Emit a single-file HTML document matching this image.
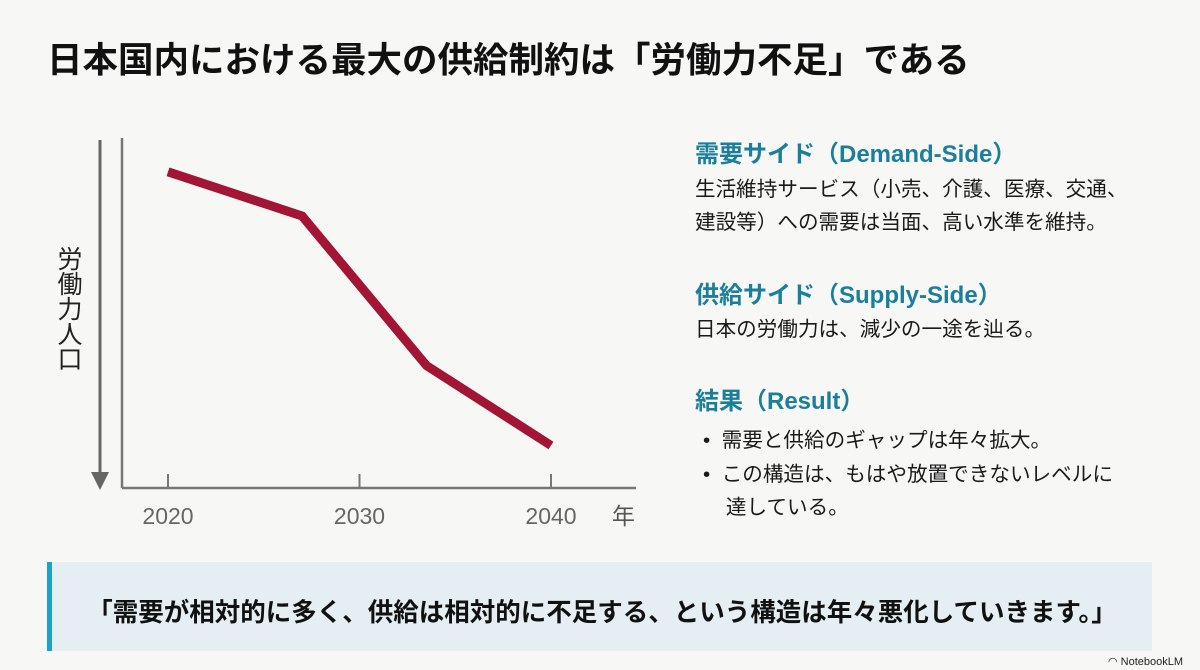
<!DOCTYPE html>
<html><head><meta charset="utf-8">
<style>
body{margin:0;width:1200px;height:670px;background:#f7f7f6;position:relative;overflow:hidden;font-family:"Liberation Sans","Noto Sans CJK JP",sans-serif;color:#111}
.a{position:absolute;white-space:nowrap}
.h{font-size:24px;font-weight:bold;color:#1b7f9c}
.b{font-size:20.6px;color:#1a1a1a}
</style></head><body>
<div class="a" style="left:47px;top:32px;font-size:35.5px;font-weight:bold;color:#111">日本国内における最大の供給制約は「労働力不足」である</div>

<svg class="a" style="left:0;top:0" width="660" height="540" id="chart">
<line x1="100" y1="140" x2="100" y2="478" stroke="#666" stroke-width="3"/>
<polygon points="91,472 109,472 100,490" fill="#666"/>
<line x1="122" y1="138" x2="122" y2="488" stroke="#777" stroke-width="2.5"/>
<line x1="122" y1="488" x2="636" y2="488" stroke="#777" stroke-width="2.5"/>
<text x="70" y="246" font-size="25" fill="#222" style="writing-mode:vertical-rl;font-family:'Noto Sans CJK JP',sans-serif">労働力人口</text>
<text x="612" y="524" font-size="23" fill="#555" font-family="'Noto Sans CJK JP',sans-serif">年</text>
<g id="ticks"></g>
<polyline id="series" fill="none" stroke="#a31535" stroke-width="9" stroke-linejoin="miter"/>
</svg>

<div class="a h" style="left:695px;top:134px">需要サイド（Demand-Side）</div>
<div class="a b" style="left:695px;top:173px;line-height:33px">生活維持サービス（小売、介護、医療、交通、<br>建設等）への需要は当面、高い水準を維持。</div>
<div class="a h" style="left:695px;top:275px">供給サイド（Supply-Side）</div>
<div class="a b" style="left:695px;top:312px">日本の労働力は、減少の一途を辿る。</div>
<div class="a h" style="left:695px;top:381px">結果（Result）</div>
<div class="a b" style="left:703px;top:423px">•&nbsp; 需要と供給のギャップは年々拡大。</div>
<div class="a b" style="left:703px;top:458px;line-height:33px">•&nbsp; この構造は、もはや放置できないレベルに<br>&nbsp;&nbsp;&nbsp;&nbsp;達している。</div>

<div class="a" style="left:47px;top:562px;width:1105px;height:89px;background:#e5eef3;border-left:5px solid #1aa3c6;box-sizing:border-box"></div>
<div class="a" style="left:52px;width:1100px;top:592px;text-align:center;font-size:25.5px;font-weight:bold">「需要が相対的に多く、供給は相対的に不足する、という構造は年々悪化していきます。」</div>
<div class="a" style="left:1108px;top:655px;font-size:11px;color:#222">◠ NotebookLM</div>

<script>
const years=[2020,2027,2033.5,2040];
const values=[93,80,36,12.5];
const tickYears=[2020,2030,2040];
const tickLabels=["2020","2030","2040"];
const xs=y=>168+(y-2020)*19.15;
const ys=v=>488-v*3.4;
const line=document.getElementById('series');
line.setAttribute('points',years.map((y,i)=>xs(y)+','+ys(values[i])).join(' '));
const g=document.getElementById('ticks');
const NS='http://www.w3.org/2000/svg';
tickYears.forEach((t,i)=>{
 const l=document.createElementNS(NS,'line');
 
 
 l.setAttribute('x1',xs(t));l.setAttribute('x2',xs(t));l.setAttribute('y1',474);l.setAttribute('y2',488);
 l.setAttribute('stroke','#777');l.setAttribute('stroke-width','2');
 g.appendChild(l);
 const tx=document.createElementNS(NS,'text');
 
 
 tx.setAttribute('x',xs(t));tx.setAttribute('y',524);tx.setAttribute('text-anchor','middle');
 tx.setAttribute('font-size','23');tx.setAttribute('fill','#666');
 tx.textContent=tickLabels[i];
 g.appendChild(tx);
});
</script>
</body></html>
